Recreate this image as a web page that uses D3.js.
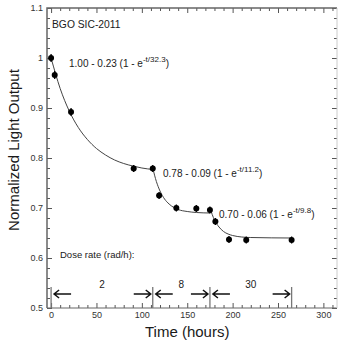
<!DOCTYPE html>
<html lang="en">
<head>
<meta charset="UTF-8">
<title>BGO SIC-2011</title>
<style>
    body { margin: 0; background: #fff; }
    svg text { font-family: "Liberation Sans", Arial, sans-serif; fill: #1a1a1a; }
    .axis path { display: none; }
    .axis line { stroke: #555; stroke-width: 1; }
    .axis text { font-size: 9px; fill: #333; }
</style>
</head>
<body>
<div id="chart"></div>
<script src="https://d3js.org/d3.v7.min.js"></script>
<script>
// Measured points
const time = [0, 4, 22, 91, 112, 119, 138, 160, 175, 181, 196, 215, 265];
const lightOutput = [1.000, 0.966, 0.892, 0.779, 0.779, 0.725, 0.700, 0.699, 0.696, 0.673, 0.637, 0.636, 0.636];
const errBar = [0.008, 0.008, 0.008, 0.007, 0.007, 0.007, 0.007, 0.007, 0.007, 0.007, 0.007, 0.007, 0.007];

// Fit curves
const fit1T = [0, 10, 20, 30, 40, 50, 60, 70, 80, 90, 100, 112];
const fit1Y = [1.000, 0.939, 0.894, 0.861, 0.837, 0.819, 0.806, 0.796, 0.789, 0.784, 0.780, 0.777];
const fit2T = [112, 116, 120, 125, 130, 140, 150, 160, 175];
const fit2Y = [0.780, 0.753, 0.734, 0.718, 0.708, 0.697, 0.693, 0.691, 0.690];
const fit3T = [175, 180, 185, 190, 195, 200, 210, 220, 265];
const fit3Y = [0.700, 0.676, 0.662, 0.653, 0.648, 0.645, 0.642, 0.641, 0.640];

// Dose-rate periods
const doseBounds = [0, 112, 175, 265];
const doseRates = ["2", "8", "30"];

const xTicks = [0, 50, 100, 150, 200, 250, 300];
const yTicks = [0.5, 0.6, 0.7, 0.8, 0.9, 1, 1.1];

const width = 339, height = 341;
const m = { left: 47, right: 337, top: 8, bottom: 308 };

const svg = d3.select("#chart").append("svg")
    .attr("width", width)
    .attr("height", height);

const x = d3.scaleLinear().domain([-4.5, 315]).range([m.left, m.right]);
const y = d3.scaleLinear().domain([0.5, 1.1]).range([m.bottom, m.top]);

// minor ticks
const xMinor = d3.range(0, 320, 10).filter(v => v % 50 !== 0);
const yMinor = d3.range(0.52, 1.1, 0.02).filter(v => Math.abs(v * 10 - Math.round(v * 10)) > 0.01);

function addAxis(axisFn, scale, pos, ticks, size, labels) {
    const ax = axisFn(scale).tickValues(ticks).tickSize(-size).tickPadding(4);
    if (!labels) ax.tickFormat("");
    else ax.tickFormat(d3.format("~g"));
    return svg.append("g").attr("class", "axis").attr("transform", pos).call(ax);
}

addAxis(d3.axisBottom, x, `translate(0,${m.bottom})`, xTicks, 5, true);
addAxis(d3.axisBottom, x, `translate(0,${m.bottom})`, xMinor, 3, false);
addAxis(d3.axisTop, x, `translate(0,${m.top})`, xTicks, 5, false);
addAxis(d3.axisTop, x, `translate(0,${m.top})`, xMinor, 3, false);
addAxis(d3.axisLeft, y, `translate(${m.left},0)`, yTicks, 5, true);
addAxis(d3.axisLeft, y, `translate(${m.left},0)`, yMinor, 3, false);
addAxis(d3.axisRight, y, `translate(${m.right},0)`, yTicks, 5, false);
addAxis(d3.axisRight, y, `translate(${m.right},0)`, yMinor, 3, false).selectAll("line").attr("stroke", "#aaa");

// frame
svg.append("path")
    .attr("d", `M${m.left},${m.bottom}V${m.top}H${m.right}`)
    .attr("fill", "none").attr("stroke", "#666").attr("stroke-width", 1.5);
svg.append("path")
    .attr("d", `M${m.left},${m.bottom}H${m.right}`)
    .attr("fill", "none").attr("stroke", "#666").attr("stroke-width", 1.2);
svg.append("path")
    .attr("d", `M${m.right},${m.top}V${m.bottom}`)
    .attr("fill", "none").attr("stroke", "#ccc").attr("stroke-width", 1);

// fit curves
const line = d3.line().x(d => x(d[0])).y(d => y(d[1])).curve(d3.curveMonotoneX);
[[fit1T, fit1Y], [fit2T, fit2Y], [fit3T, fit3Y]].forEach(([ts, ys]) => {
    svg.append("path")
        .datum(ts.map((t, i) => [t, ys[i]]))
        .attr("d", line)
        .attr("fill", "none")
        .attr("stroke", "#444")
        .attr("stroke-width", 1);
});

// error bars and points
svg.append("g").selectAll("line")
    .data(time)
    .join("line")
    .attr("x1", d => x(d)).attr("x2", d => x(d))
    .attr("y1", (d, i) => y(lightOutput[i] + errBar[i]))
    .attr("y2", (d, i) => y(lightOutput[i] - errBar[i]))
    .attr("stroke", "#000").attr("stroke-width", 1.3);

svg.append("g").selectAll("circle")
    .data(time)
    .join("circle")
    .attr("cx", d => x(d))
    .attr("cy", (d, i) => y(lightOutput[i]))
    .attr("r", 3)
    .attr("fill", "#000");

// dose rate annotation
svg.append("g").selectAll("line")
    .data(doseBounds)
    .join("line")
    .attr("x1", d => x(d)).attr("x2", d => x(d))
    .attr("y1", 287).attr("y2", m.bottom)
    .attr("stroke", "#777").attr("stroke-width", 1.3);

const arrowY = 294;
function arrow(x0, dir) {
    // x0 is the tip; dir -1 points left, +1 points right
    const tail = x0 - dir * 17;
    svg.append("path")
        .attr("d", `M${tail},${arrowY}H${x0}M${x0 - dir * 5},${arrowY - 4}L${x0},${arrowY}L${x0 - dir * 5},${arrowY + 4}`)
        .attr("fill", "none").attr("stroke", "#111").attr("stroke-width", 1.5);
}
doseRates.forEach((r, i) => {
    const a = x(doseBounds[i]), b = x(doseBounds[i + 1]);
    arrow(a + 3, -1);
    arrow(b - 2, 1);
    svg.append("text")
        .attr("x", (a + b) / 2).attr("y", 288)
        .attr("text-anchor", "middle")
        .attr("font-size", 10)
        .text(r);
});

svg.append("text")
    .attr("x", 60).attr("y", 258)
    .attr("font-size", 9.5)
    .text("Dose rate (rad/h):");

svg.append("text")
    .attr("x", 52).attr("y", 28)
    .attr("font-size", 10.3)
    .text("BGO SIC-2011");

// fit equations
function equation(xp, yp, main, sup) {
    const t = svg.append("text").attr("x", xp).attr("y", yp).attr("font-size", 10);
    t.append("tspan").text(main);
    t.append("tspan").attr("dy", -5).attr("font-size", 8).text(sup);
    t.append("tspan").attr("dy", 5).text(")");
}
equation(69, 67, "1.00 - 0.23 (1 - e", "-t/32.3");
equation(163, 177, "0.78 - 0.09 (1 - e", "-t/11.2");
equation(219, 218, "0.70 - 0.06 (1 - e", "-t/9.8");

// axis titles
svg.append("text")
    .attr("x", x(150)).attr("y", 337)
    .attr("text-anchor", "middle")
    .attr("font-size", 15)
    .text("Time (hours)");

svg.append("text")
    .attr("transform", `translate(19,150) rotate(-90)`)
    .attr("text-anchor", "middle")
    .attr("font-size", 15)
    .text("Normalized Light Output");
</script>
</body>
</html>
